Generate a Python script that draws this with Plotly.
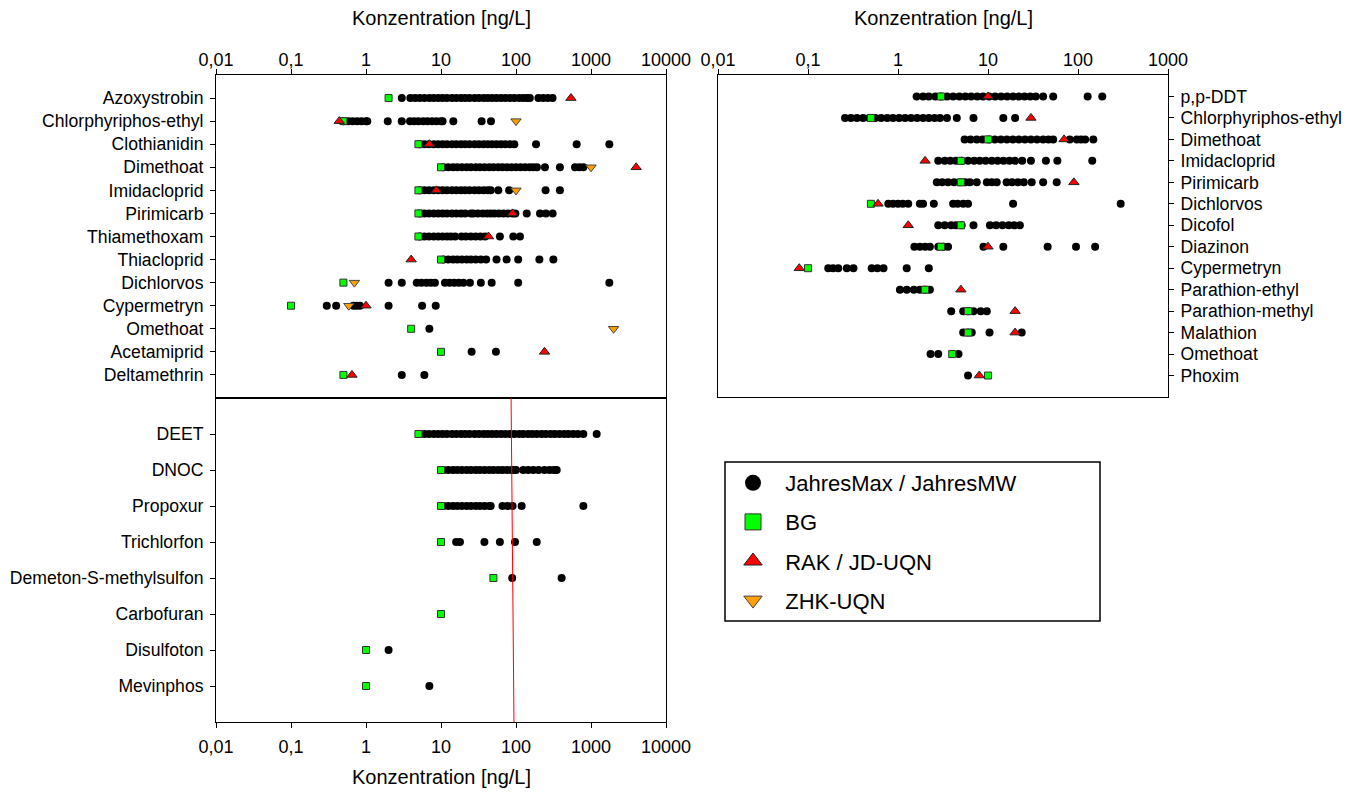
import plotly.graph_objects as go

FONT = "Arial, 'Liberation Sans', sans-serif"

# ---------------- Top-left panel ----------------
TL_CATS = ["Azoxystrobin", "Chlorphyriphos-ethyl", "Clothianidin", "Dimethoat", "Imidacloprid",
           "Pirimicarb", "Thiamethoxam", "Thiacloprid", "Dichlorvos", "Cypermetryn",
           "Omethoat", "Acetamiprid", "Deltamethrin"]
TL_DOTS = [
    [3.0, 3.9, 4.5, 5.2, 6, 7, 8, 9.2, 10.5, 12, 14, 16, 18.5, 21, 24, 28, 32, 37, 42, 48, 55, 63,
     72, 83, 95, 110, 125, 140, 153, 199, 230, 265, 307],
    [0.5, 0.58, 0.66, 0.76, 0.87, 1.0, 1.04, 1.95, 3.0, 3.86, 4.4, 5.0, 5.8, 6.6, 7.6, 8.7, 10,
     10.5, 14.6, 34.8, 46.4],
    [5.2, 6, 6.9, 8, 9.2, 10.5, 12, 14, 16, 18.5, 21, 24, 28, 32, 37, 42, 48, 55, 63, 72, 83, 95,
     185, 644, 1755],
    [10.8, 12.5, 14.5, 16.5, 19, 22, 25, 29, 33, 38, 44, 50, 58, 66, 76, 87, 100, 115, 132, 152,
     170, 190, 243, 385, 612, 700, 791],
    [5.2, 6, 6.9, 8, 9.2, 10.5, 12, 14, 16, 18.5, 21, 24, 28, 32, 37, 42, 46, 58, 81, 248, 385],
    [5.2, 6, 6.9, 8, 9.2, 10.5, 12, 14, 16, 18.5, 21, 25, 27, 31, 36, 41, 46, 51.5, 59, 68, 78,
     90, 98, 139, 209, 250, 308],
    [5.2, 6, 6.9, 8, 9.2, 10.5, 12, 13.5, 15.4, 18.8, 21.5, 25, 29, 33.5, 38.7, 61, 92, 113],
    [10.8, 12.5, 14.5, 16.5, 19, 22, 25, 29, 34, 40, 55, 75, 107, 205, 315],
    [2.0, 3.0, 4.75, 5.5, 6.4, 7.3, 8.3, 11.3, 13, 15, 17.3, 19.9, 24.3, 34, 47.4, 107, 1755],
    [0.30, 0.40, 0.68, 0.75, 0.83, 2.0, 5.6, 8.5],
    [7.0],
    [25.6, 54],
    [3.0, 6.0],
]
TL_BG = [2, 0.5, 5, 10, 5, 5, 5, 10, 0.5, 0.1, 4, 10, 0.5]
TL_RAK = [540, 0.44, 7, 4000, 8.7, 90, 43, 4.0, None, 1.0, None, 240, 0.65]
TL_ZHK = [None, 100, None, 1000, 100, None, None, None, 0.70, 0.59, 2000, None, None]

# ---------------- Bottom-left panel ----------------
BL_CATS = ["DEET", "DNOC", "Propoxur", "Trichlorfon", "Demeton-S-methylsulfon",
           "Carbofuran", "Disulfoton", "Mevinphos"]
BL_DOTS = [
    [5.2, 6, 6.9, 8, 9.2, 10.5, 12, 14, 16, 18.5, 21, 24, 28, 32, 37, 42, 48, 55, 63, 72, 83, 95,
     110, 125, 145, 165, 190, 220, 250, 290, 330, 380, 440, 500, 580, 670, 790, 1190],
    [10.8, 12.5, 14.5, 16.5, 19, 22, 25, 29, 33, 38, 44, 50, 58, 66, 76, 87, 92, 100, 125, 145,
     170, 200, 240, 280, 320, 349],
    [10.8, 12.5, 14.5, 16.5, 19, 22, 25, 29, 33, 38, 44, 46, 66, 77, 90, 119, 791],
    [15.9, 17.9, 37.9, 61, 97, 189],
    [89, 406],
    [],
    [2.0],
    [7.0],
]
BL_BG = [5, 10, 10, 10, 50, 10, 1, 1]
RED_LINE = [86, 94]  # ng/L, top and bottom of the lower panel

# ---------------- Right panel ----------------
R_CATS = ["p,p-DDT", "Chlorphyriphos-ethyl", "Dimethoat", "Imidacloprid", "Pirimicarb",
          "Dichlorvos", "Dicofol", "Diazinon", "Cypermetryn", "Parathion-ethyl",
          "Parathion-methyl", "Malathion", "Omethoat", "Phoxim"]
R_DOTS = [
    [1.61, 1.9, 2.2, 2.6, 3.0, 3.5, 4.1, 4.8, 5.6, 6.5, 7.6, 8.8, 10.3, 12, 14, 16.3, 19, 22,
     25.5, 29.5, 34, 41, 53, 128, 186],
    [0.258, 0.3, 0.35, 0.41, 0.48, 0.56, 0.65, 0.76, 0.88, 1.03, 1.2, 1.4, 1.63, 1.9, 2.2, 2.55,
     2.93, 3.5, 4.5, 6.9, 14.8, 20],
    [5.5, 6.4, 7.5, 8.7, 10.2, 11.9, 13.9, 16.2, 18.9, 22, 25.7, 30, 35, 41, 47, 53, 81, 97, 108,
     120, 148],
    [2.8, 3.3, 3.8, 4.4, 5.1, 6, 7, 8.1, 9.4, 11, 12.8, 14.9, 17.3, 20, 24, 30, 44, 59, 144],
    [2.7, 3.1, 3.6, 4.2, 4.9, 5.6, 6.3, 7.5, 9.7, 11, 12.5, 16.1, 18.5, 21.5, 25, 30.6, 41, 58],
    [0.78, 0.88, 1.0, 1.13, 1.3, 1.75, 1.9, 2.5, 4.1, 4.6, 5.3, 6.0, 19, 298],
    [2.8, 3.3, 3.9, 4.4, 5.1, 6.9, 10.5, 12.3, 14.5, 17, 19.5, 22.6],
    [1.52, 1.75, 2.0, 2.26, 2.8, 3.2, 3.6, 8.9, 14.8, 46, 95, 155],
    [0.168, 0.19, 0.217, 0.27, 0.32, 0.51, 0.59, 0.69, 1.25, 2.2],
    [1.05, 1.25, 1.5, 1.75, 2.0, 2.26],
    [3.9, 5.3, 6.0, 6.9, 8.3, 9.7],
    [5.3, 6.0, 6.6, 10.4, 23.7],
    [2.3, 2.8, 4.7],
    [6.0],
]
R_BG = [3, 0.5, 10, 5, 5, 0.5, 5, 3, 0.1, 2.0, 6, 6, 4, 10]
R_RAK = [10, 30, 70, 2.0, 90, 0.6, 1.3, 10, 0.08, 5.0, 20, 20, None, 8]

TICKVALS_L = [0.01, 0.1, 1, 10, 100, 1000, 10000]
TICKTEXT_L = ["0,01", "0,1", "1", "10", "100", "1000", "10000"]
TICKVALS_R = [0.01, 0.1, 1, 10, 100, 1000]
TICKTEXT_R = ["0,01", "0,1", "1", "10", "100", "1000"]

LEGEND_NAMES = ["JahresMax / JahresMW", "BG", "RAK / JD-UQN", "ZHK-UQN"]
X_TITLE = "Konzentration [ng/L]"

DOT_STYLE = dict(symbol="circle", size=8, color="black")
BG_STYLE = dict(symbol="square", size=7, color="#00FF00", line=dict(color="#333333", width=1))
RAK_STYLE = dict(symbol="triangle-up", size=9, color="#FF0000", line=dict(color="#222222", width=1))
ZHK_STYLE = dict(symbol="triangle-down", size=9, color="#FFA000", line=dict(color="#444444", width=1))

fig = go.Figure()


def pairs(cats, vals):
    xs = [v for v in vals if v is not None]
    ys = [c for c, v in zip(cats, vals) if v is not None]
    return xs, ys


def add_panel(cats, dots, bg, rak, zhk, xa, ya):
    xs, ys = [], []
    for c, vals in zip(cats, dots):
        xs += vals
        ys += [c] * len(vals)
    fig.add_trace(go.Scatter(x=xs, y=ys, mode="markers", marker=DOT_STYLE, xaxis=xa, yaxis=ya,
                             showlegend=False))
    for series, style in ((bg, BG_STYLE), (rak, RAK_STYLE), (zhk, ZHK_STYLE)):
        if series is None:
            continue
        sx, sy = pairs(cats, series)
        if sx:
            fig.add_trace(go.Scatter(x=sx, y=sy, mode="markers", marker=style, xaxis=xa, yaxis=ya,
                                     showlegend=False))


add_panel(TL_CATS, TL_DOTS, TL_BG, TL_RAK, TL_ZHK, "x", "y")
add_panel(BL_CATS, BL_DOTS, BL_BG, None, None, "x2", "y2")
add_panel(R_CATS, R_DOTS, R_BG, R_RAK, None, "x3", "y3")

# legend-only entries
for i, (name, style) in enumerate(zip(LEGEND_NAMES, [DOT_STYLE, BG_STYLE, RAK_STYLE, ZHK_STYLE])):
    st = dict(style)
    st["size"] = 16
    fig.add_trace(go.Scatter(x=[None], y=[None], mode="markers", marker=st, name="\u00a0\u00a0" + name,
                             xaxis="x", yaxis="y", showlegend=True, legendgroup=f"g{i}"))

# the page body has an 8 px margin: figure is sized to fit inside the window
OFF = 8
W, H = 1359 - OFF, 792 - OFF


def px_x(p):
    return (p - OFF) / W


def px_y(p):
    return 1 - (p - OFF) / H


common_x = dict(type="log", showline=True, linecolor="black", linewidth=1, mirror=True,
                ticks="outside", ticklen=5, tickcolor="black", showgrid=False, zeroline=False,
                automargin=False,
                tickfont=dict(family=FONT, size=18, color="black"))
common_y = dict(type="category", showline=True, linecolor="black", linewidth=1, mirror=True,
                ticks="outside", ticklen=5, tickcolor="black", showgrid=False, zeroline=False,
                automargin=False, ticklabelstandoff=3,
                tickfont=dict(family=FONT, size=17.6, color="black"))

fig.update_layout(
    width=W, height=H,
    margin=dict(l=0, r=0, t=0, b=0, autoexpand=False),
    paper_bgcolor="white", plot_bgcolor="white",
    font=dict(family=FONT, color="black"),
    xaxis=dict(common_x, domain=[px_x(216), px_x(666)], anchor="y", side="top",
               range=[-2, 4], tickvals=TICKVALS_L, ticktext=TICKTEXT_L, ticklabelstandoff=-4),
    yaxis=dict(common_y, domain=[px_y(398), px_y(75)], anchor="x",
               categoryorder="array", categoryarray=TL_CATS, range=[len(TL_CATS), -1]),
    xaxis2=dict(common_x, domain=[px_x(216), px_x(666)], anchor="y2", side="bottom",
                range=[-2, 4], tickvals=TICKVALS_L, ticktext=TICKTEXT_L, ticklabelstandoff=3),
    yaxis2=dict(common_y, domain=[px_y(722), px_y(398)], anchor="x2",
                categoryorder="array", categoryarray=BL_CATS, range=[len(BL_CATS), -1]),
    xaxis3=dict(common_x, domain=[px_x(718), px_x(1168)], anchor="y3", side="top",
                range=[-2, 3], tickvals=TICKVALS_R, ticktext=TICKTEXT_R, ticklabelstandoff=-4),
    yaxis3=dict(common_y, domain=[px_y(397), px_y(75)], anchor="x3", side="right",
                categoryorder="array", categoryarray=R_CATS, range=[len(R_CATS), -1]),
    legend=dict(x=px_x(733), y=px_y(462), xanchor="left", yanchor="top",
                font=dict(family=FONT, size=22, color="black"),
                bgcolor="rgba(0,0,0,0)", borderwidth=0, traceorder="grouped",
                tracegroupgap=7.5),
    showlegend=True,
)

fig.add_shape(type="line", xref="x2", yref="y2 domain", x0=RED_LINE[0], x1=RED_LINE[1],
              y0=1, y1=0, line=dict(color="#FF0000", width=1))
fig.add_shape(type="rect", xref="paper", yref="paper", x0=px_x(725), x1=px_x(1100),
              y0=px_y(621), y1=px_y(462), line=dict(color="black", width=1.5))

for xc, yc in ((441, 18), (943, 18), (441, 777)):
    fig.add_annotation(text=X_TITLE, xref="paper", yref="paper", x=px_x(xc), y=px_y(yc),
                       showarrow=False, xanchor="center", yanchor="middle",
                       font=dict(family=FONT, size=20, color="black"))

fig.write_html("out.html")
